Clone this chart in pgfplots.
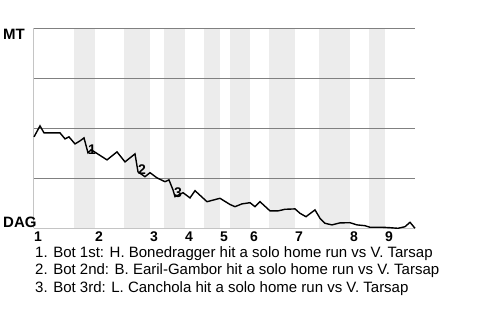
\documentclass[border=0pt]{standalone}
\usepackage{pgfplots}
\pgfplotsset{compat=1.18}
\usepackage{fontspec}
\setmainfont{Liberation Sans}
\definecolor{band}{HTML}{ECECEC}
\definecolor{gridgray}{HTML}{808080}
\definecolor{axgray}{HTML}{C4C4C4}
\begin{document}
\begin{tikzpicture}
\path[use as bounding box] (0pt,0pt) rectangle (480pt,320pt);
\begin{axis}[
  at={(34pt,91.7pt)}, anchor=south west,
  width=381pt, height=200pt, scale only axis,
  xmin=0, xmax=381, ymin=0, ymax=100,
  hide y axis,
  axis x line*=bottom,
  axis line style={draw=axgray, line width=1pt},
  xtick={4,65,120,155,190,220,265,320,355},
  xticklabels={1,2,3,4,5,6,7,8,9},
  major tick length=0pt,
  xticklabel style={font=\bfseries\fontsize{14}{14}\selectfont, inner sep=0pt, anchor=north, yshift=-3.5pt},
  clip=false,
]
% bottom-half inning bands
\addplot[fill=band, draw=none] coordinates {(40,0)(40,100)(61,100)(61,0)} -- cycle;
\addplot[fill=band, draw=none] coordinates {(90,0)(90,100)(116,100)(116,0)} -- cycle;
\addplot[fill=band, draw=none] coordinates {(130,0)(130,100)(151,100)(151,0)} -- cycle;
\addplot[fill=band, draw=none] coordinates {(170,0)(170,100)(186,100)(186,0)} -- cycle;
\addplot[fill=band, draw=none] coordinates {(196,0)(196,100)(216,100)(216,0)} -- cycle;
\addplot[fill=band, draw=none] coordinates {(235,0)(235,100)(261,100)(261,0)} -- cycle;
\addplot[fill=band, draw=none] coordinates {(285,0)(285,100)(316,100)(316,0)} -- cycle;
\addplot[fill=band, draw=none] coordinates {(335,0)(335,100)(351,100)(351,0)} -- cycle;
% axis lines and grid
\addplot[axgray, line width=1pt] coordinates {(0,0)(0,100)};
\addplot[axgray, line width=1pt] coordinates {(0,0)(381,0)};
\addplot[gridgray, line width=1pt] coordinates {(0,25)(381,25)};
\addplot[gridgray, line width=1pt] coordinates {(0,50)(381,50)};
\addplot[gridgray, line width=1pt] coordinates {(0,75)(381,75)};
\addplot[gridgray, line width=1pt] coordinates {(0,100)(381,100)};
% win probability line
\addplot[black, line width=1.4pt, line join=miter, mark=none] coordinates {
(0,45.7)(6,51.2)(10,47.7)(26,47.7)(31,44.7)(35,45.7)(41,42.2)(46,43.7)(50,45.2)
(54,37.7)(57,39.2)(59,38.7)(73,34.2)(83,38.2)(91,33.2)(101,37.2)(104,28.2)
(111,25.8)(116,27.8)(123,25.2)(131,23.3)(135,24.2)(139,19.2)(141,15.8)(149,17.8)
(156,15.2)(161,18.8)(173,13.3)(186,15.0)(196,11.9)(201,10.8)(208,12.2)(216,12.8)
(221,10.8)(226,13.3)(236,8.7)(244,8.7)(251,9.5)(261,9.7)(266,7.5)(272,5.8)
(281,9.2)(286,5.0)(291,2.5)(298,1.7)(306,2.7)(316,2.8)(323,1.7)(331,1.3)
(336,0.5)(349,0.5)(356,0.3)(364,0)(371,0.8)(376,3.0)(381,0)
};
\node[font=\bfseries\fontsize{14}{14}\selectfont, inner sep=0pt] at (axis cs:58,39.2) {1};
\node[font=\bfseries\fontsize{14}{14}\selectfont, inner sep=0pt] at (axis cs:108,29.2) {2};
\node[font=\bfseries\fontsize{14}{14}\selectfont, inner sep=0pt] at (axis cs:144,17.7) {3};
\end{axis}
\node[anchor=north west, inner sep=0pt, font=\bfseries\fontsize{15}{15}\selectfont] at (3pt,291pt) {MT};
\node[anchor=base west, inner sep=0pt, font=\bfseries\fontsize{15}{15}\selectfont] at (3pt,92.7pt) {DAG};
\node[anchor=base west, inner sep=0pt, font=\fontsize{15}{15}\selectfont] at (35pt,62.5pt) {1. Bot 1st: H. Bonedragger hit a solo home run vs V. Tarsap};
\node[anchor=base west, inner sep=0pt, font=\fontsize{15}{15}\selectfont] at (35pt,45pt) {2. Bot 2nd: B. Earil-Gambor hit a solo home run vs V. Tarsap};
\node[anchor=base west, inner sep=0pt, font=\fontsize{15}{15}\selectfont] at (35pt,27.5pt) {3. Bot 3rd: L. Canchola hit a solo home run vs V. Tarsap};
\end{tikzpicture}
\end{document}
